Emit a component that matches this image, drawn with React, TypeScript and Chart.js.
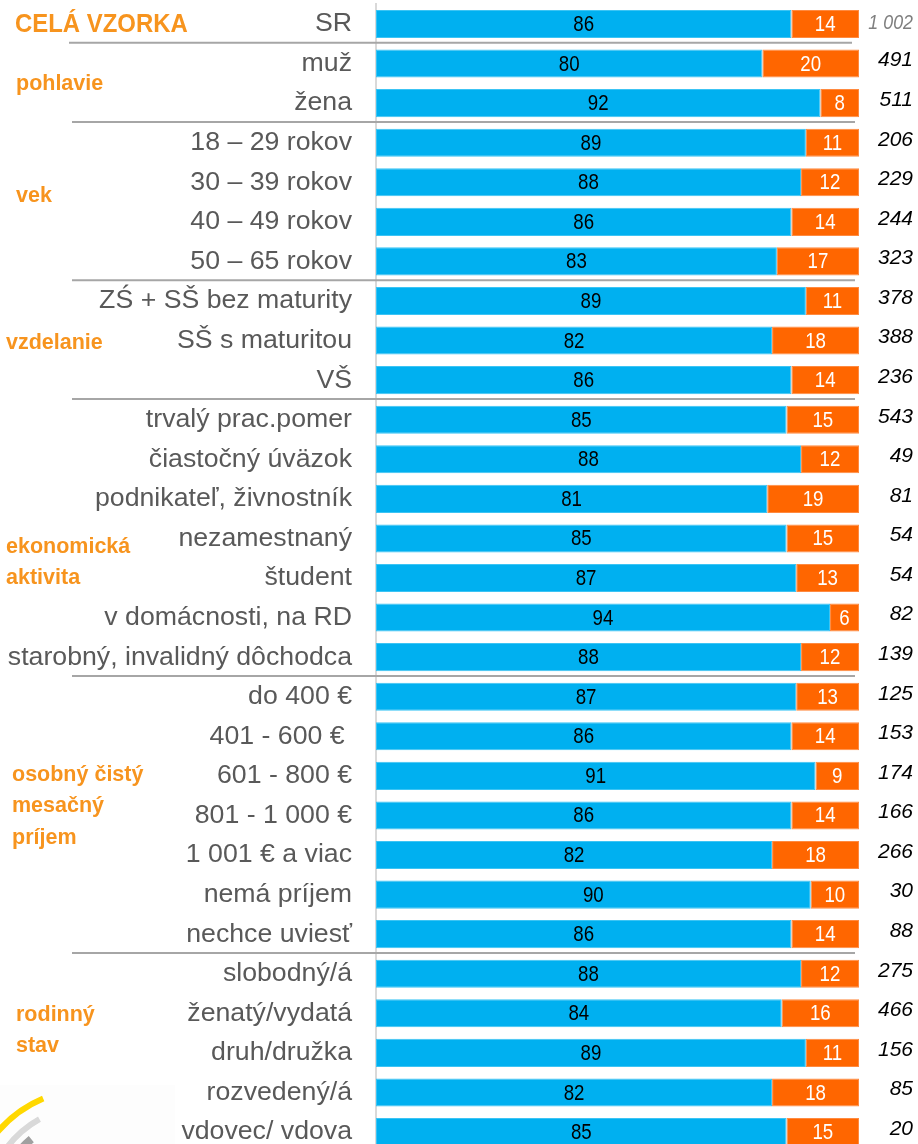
import React, { useEffect, useRef } from 'react';
import { Chart, registerables } from 'chart.js';

Chart.register(...registerables);

const categories = [
  'SR',
  'muž', 'žena',
  '18 – 29 rokov', '30 – 39 rokov', '40 – 49 rokov', '50 – 65 rokov',
  'ZŚ + SŠ bez maturity', 'SŠ s maturitou', 'VŠ',
  'trvalý prac.pomer', 'čiastočný úväzok', 'podnikateľ, živnostník', 'nezamestnaný', 'študent', 'v domácnosti, na RD', 'starobný, invalidný dôchodca',
  'do 400 €', '401 - 600 € ', '601 - 800 €', '801 - 1 000 €', '1 001 € a viac', 'nemá príjem', 'nechce uviesť',
  'slobodný/á', 'ženatý/vydatá', 'druh/družka', 'rozvedený/á', 'vdovec/ vdova',
];

const blueValues = [
  86,
  80, 92,
  89, 88, 86, 83,
  89, 82, 86,
  85, 88, 81, 85, 87, 94, 88,
  87, 86, 91, 86, 82, 90, 86,
  88, 84, 89, 82, 85,
];

const orangeValues = [
  14,
  20, 8,
  11, 12, 14, 17,
  11, 18, 14,
  15, 12, 19, 15, 13, 6, 12,
  13, 14, 9, 14, 18, 10, 14,
  12, 16, 11, 18, 15,
];

const sampleSizes = [
  '1 002',
  '491', '511',
  '206', '229', '244', '323',
  '378', '388', '236',
  '543', '49', '81', '54', '54', '82', '139',
  '125', '153', '174', '166', '266', '30', '88',
  '275', '466', '156', '85', '20',
];

// separators are drawn after these row indices
const groupEnds = [0, 2, 6, 9, 16, 23];

// group titles: text lines and the (fractional) row index of the first line
const groupTitles = [
  { lines: ['CELÁ VZORKA'], row: 0.02, big: true, x: 15 },
  { lines: ['pohlavie'], row: 1.52, big: false, x: 16 },
  { lines: ['vek'], row: 4.35, big: false, x: 16 },
  { lines: ['vzdelanie'], row: 8.06, big: false, x: 6 },
  { lines: ['ekonomická', 'aktivita'], row: 13.22, big: false, x: 6 },
  { lines: ['osobný čistý', 'mesačný', 'príjem'], row: 18.98, big: false, x: 12 },
  { lines: ['rodinný', 'stav'], row: 25.04, big: false, x: 16 },
];

const BLUE = '#00B0F0';
const ORANGE = '#FF6600';
const TITLE_ORANGE = '#F7941E';
const LABEL_GRAY = '#595959';
const FONT = '"Liberation Sans", Arial, Helvetica, sans-serif';

function scaledText(ctx: CanvasRenderingContext2D, text: string, x: number, y: number, sx: number, align: CanvasTextAlign) {
  ctx.save();
  ctx.translate(x, y);
  ctx.scale(sx, 1);
  ctx.textAlign = align;
  ctx.fillText(text, 0, 0);
  ctx.restore();
}

const decorPlugin = {
  id: 'decor',
  beforeDatasetsDraw(chart: any) {
    const ctx: CanvasRenderingContext2D = chart.ctx;
    const y = chart.scales.y;
    ctx.save();
    ctx.strokeStyle = '#A6A6A6';
    ctx.lineWidth = 2;
    groupEnds.forEach((idx, i) => {
      const p = (y.getPixelForValue(idx) + y.getPixelForValue(idx + 1)) / 2 - 1;
      const x0 = i === 0 ? 69 : 72;
      const x1 = i === 0 ? 852 : 855;
      ctx.beginPath();
      ctx.moveTo(x0, p);
      ctx.lineTo(x1, p);
      ctx.stroke();
    });
    ctx.restore();
  },
  afterDatasetsDraw(chart: any) {
    const ctx: CanvasRenderingContext2D = chart.ctx;
    const y = chart.scales.y;
    ctx.save();
    ctx.textBaseline = 'middle';

    // values inside bars
    ctx.font = `22px ${FONT}`;
    chart.data.datasets.forEach((ds: any, di: number) => {
      const meta = chart.getDatasetMeta(di);
      meta.data.forEach((bar: any, i: number) => {
        const cx = (bar.x + bar.base) / 2;
        ctx.fillStyle = di === 0 ? '#000000' : '#FFFFFF';
        scaledText(ctx, String(ds.data[i]), cx, bar.y + 1, 0.85, 'center');
      });
    });

    // sample sizes on the right
    sampleSizes.forEach((s, i) => {
      const py = y.getPixelForValue(i);
      ctx.font = `italic 21px ${FONT}`;
      if (i === 0) {
        ctx.fillStyle = '#7F7F7F';
        scaledText(ctx, s, 913, py - 1, 0.85, 'right');
      } else {
        ctx.fillStyle = '#000000';
        scaledText(ctx, s, 913, py - 3, 1, 'right');
      }
    });

    // group titles
    ctx.fillStyle = TITLE_ORANGE;
    groupTitles.forEach((g) => {
      ctx.font = g.big ? `bold 26px ${FONT}` : `bold 21.5px ${FONT}`;
      const sx = g.big ? 0.92 : 1;
      const y0 = y.getPixelForValue(g.row);
      g.lines.forEach((line, k) => {
        scaledText(ctx, line, g.x, y0 + k * 31.3, sx, 'left');
      });
    });

    // logo fragment bottom-left
    ctx.fillStyle = 'rgba(0,0,0,0.008)';
    ctx.fillRect(0, 1085, 175, 80);
    const cx = 90, cy = 1210;
    ctx.lineCap = 'butt';
    ctx.strokeStyle = '#FFD800';
    ctx.lineWidth = 6;
    ctx.beginPath();
    ctx.arc(cx, cy, 121, -2.9, -1.968);
    ctx.stroke();
    ctx.strokeStyle = '#D9D9D9';
    ctx.lineWidth = 6;
    ctx.beginPath();
    ctx.arc(cx, cy, 104, -2.9, -2.078);
    ctx.stroke();
    ctx.strokeStyle = '#A0A0A0';
    ctx.lineWidth = 8;
    ctx.beginPath();
    ctx.arc(cx, cy, 92, -2.9, -2.263);
    ctx.stroke();

    ctx.restore();
  },
};

export default function App() {
  const ref = useRef<HTMLCanvasElement | null>(null);

  useEffect(() => {
    if (!ref.current) return;
    const chart = new Chart(ref.current, {
      type: 'bar',
      data: {
        labels: categories,
        datasets: [
          {
            label: 'áno',
            data: blueValues,
            backgroundColor: BLUE,
            borderColor: '#3CC4F4',
            borderWidth: 1,
            borderSkipped: false,
            barPercentage: 0.71,
            categoryPercentage: 1,
          },
          {
            label: 'nie',
            data: orangeValues,
            backgroundColor: ORANGE,
            borderColor: '#FF8A40',
            borderWidth: 1,
            borderSkipped: false,
            barPercentage: 0.71,
            categoryPercentage: 1,
          },
        ],
      },
      options: {
        indexAxis: 'y',
        responsive: false,
        animation: false,
        devicePixelRatio: 1,
        layout: { padding: { top: 4.2, right: 59, bottom: 8.2, left: 0 } },
        plugins: {
          legend: { display: false },
          tooltip: { enabled: false },
          title: { display: false },
        },
        scales: {
          x: { stacked: true, min: 0, max: 100, display: false },
          y: {
            stacked: true,
            afterFit: (s: any) => {
              s.width = 376;
              s.paddingTop = 0;
              s.paddingBottom = 0;
            },
            grid: { display: false, drawTicks: false },
            border: { display: true, color: '#D9D9D9', width: 2 },
            ticks: {
              color: LABEL_GRAY,
              padding: 24,
              font: { family: FONT, size: 26.7 },
              autoSkip: false,
            },
          },
        },
      },
      plugins: [decorPlugin],
    });
    return () => chart.destroy();
  }, []);

  return (
    <div style={{ position: 'absolute', left: 0, top: 0, width: 918, height: 1144, overflow: 'hidden', background: '#ffffff' }}>
      <canvas ref={ref} width={918} height={1160} style={{ display: 'block', width: 918, height: 1160 }} />
    </div>
  );
}
